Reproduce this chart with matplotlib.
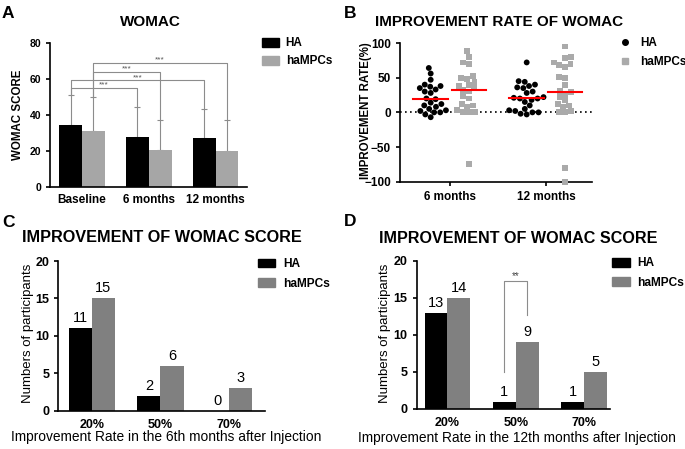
import matplotlib.pyplot as plt
import numpy as np
import pandas as pd
import seaborn as sns
from matplotlib.patches import Patch
from matplotlib.lines import Line2D

plt.rcParams['font.family'] = ['Liberation Sans', 'DejaVu Sans']

# ---------------------------------------------------
groups = ['HA', 'haMPCs']
times = ['Baseline', '6 months', '12 months']
womac_ha = [34.4, 27.9, 27.6]
womac_ha_sd = [16.7, 16.5, 16.1]
womac_mpc = [31.1, 20.7, 20.3]
womac_mpc_sd = [18.9, 16.7, 17.1]

follow_up = ['6 months', '12 months']
rate_ha_6 = [64, 56, 47, 40, 38, 37, 35, 33, 30, 28, 20, 19, 14, 12, 10, 8, 5, 3, 2, 0, 0, -3, -7]
rate_mpc_6 = [88, 80, 72, 70, 52, 50, 48, 44, 40, 38, 35, 32, 30, 23, 20, 12, 10, 8, 3, 0, 0, 0, -74]
rate_ha_12 = [72, 45, 44, 40, 38, 36, 35, 30, 28, 22, 21, 20, 20, 18, 15, 10, 5, 3, 2, 0, 0, -2, -3]
rate_mpc_12 = [95, 80, 78, 72, 70, 68, 66, 51, 50, 40, 31, 29, 27, 22, 18, 12, 10, 8, 2, 0, 0, -80, -100]

rate_bins = ['20%', '50%', '70%']
c_ha = [11, 2, 0]
c_mpc = [15, 6, 3]
d_ha = [13, 1, 1]
d_mpc = [15, 9, 5]
d_mpc_text = ['14', '9', '5']  # printed numbers (first bar is drawn at 15)

# ---------------------------------------------------
W, H = 685, 449
fx = lambda px: px / W
fy = lambda py: 1 - py / H

gray_light = '#a6a6a6'
gray_dark = '#808080'

fig = plt.figure(figsize=(6.85, 4.49), dpi=100)
axA = fig.add_axes([0.073, 0.5828, 0.2876, 0.3208])
axB = fig.add_axes([0.5839, 0.5953, 0.2803, 0.3089])
axC = fig.add_axes([0.0851, 0.0853, 0.3018, 0.3334])
axD = fig.add_axes([0.6083, 0.0891, 0.2822, 0.3303])

for ax in [axA, axB, axC, axD]:
    for s in ['top', 'right']:
        ax.spines[s].set_visible(False)
    for s in ['left', 'bottom']:
        ax.spines[s].set_linewidth(1.2)
    ax.tick_params(width=1.2, length=3)


def legend_at(ax, handles, x0, ytop, size, hl, hh, pad, spacing, weight='bold'):
    ax.legend(handles, groups, loc='upper left', bbox_to_anchor=(fx(x0), fy(ytop)),
              bbox_transform=fig.transFigure, frameon=False, borderpad=0, borderaxespad=0,
              handlelength=hl, handleheight=hh, handletextpad=pad, labelspacing=spacing,
              prop={'size': size, 'weight': weight})


# ---------------- A ----------------
w = 0.34
x = np.arange(len(times))
axA.bar(x - w/2, womac_ha, w, color='black', zorder=2)
axA.bar(x + w/2, womac_mpc, w, color=gray_light, zorder=2)
axA.errorbar(x - w/2, womac_ha, yerr=[np.zeros(3), womac_ha_sd], fmt='none',
             ecolor='#8c8c8c', elinewidth=0.8, capsize=2, capthick=0.8, zorder=1)
axA.errorbar(x + w/2, womac_mpc, yerr=[np.zeros(3), womac_mpc_sd], fmt='none',
             ecolor='#8c8c8c', elinewidth=0.8, capsize=2, capthick=0.8, zorder=1)

top_ha = np.array(womac_ha) + np.array(womac_ha_sd)
top_mpc = np.array(womac_mpc) + np.array(womac_mpc_sd)
brackets = [(-w/2, top_ha, 1, 55.2), (-w/2, top_ha, 2, 59.6),
            (w/2, top_mpc, 1, 64.3), (w/2, top_mpc, 2, 69.2)]
for off, tops, j, h in brackets:
    x1, x2 = 0 + off, j + off
    axA.plot([x1, x1, x2, x2], [tops[0], h, h, tops[j]], color='#8c8c8c', lw=0.8)
    axA.text((x1 + x2) / 2, h - 0.5, '***', ha='center', va='bottom', fontsize=6, color='#555555')

axA.set_xlim(-0.48, 2.47)
axA.set_ylim(0, 80)
axA.set_yticks([0, 20, 40, 60, 80])
axA.set_xticks(x)
axA.set_xticklabels(times, fontsize=8.5, fontweight='bold')
axA.tick_params(axis='x', length=0, pad=5)
for t in axA.get_yticklabels():
    t.set_fontsize(7.5)
    t.set_fontweight('bold')
legend_at(axA, [Patch(color='black'), Patch(color=gray_light)], 262, 37.5, 8.5, 1.41, 0.8, 0.6, 0.5)

# ---------------- B ----------------
df = pd.DataFrame({
    'time': ['6 months'] * (len(rate_ha_6) + len(rate_mpc_6)) + ['12 months'] * (len(rate_ha_12) + len(rate_mpc_12)),
    'group': ['HA'] * len(rate_ha_6) + ['haMPCs'] * len(rate_mpc_6) + ['HA'] * len(rate_ha_12) + ['haMPCs'] * len(rate_mpc_12),
    'rate': rate_ha_6 + rate_mpc_6 + rate_ha_12 + rate_mpc_12,
})
pal = {'HA': 'black', 'haMPCs': '#aaaaaa'}
sns.swarmplot(data=df[df.group == 'HA'], x='time', y='rate', hue='group', hue_order=groups,
              order=follow_up, dodge=True, palette=pal, marker='o', size=4.2, linewidth=0,
              legend=False, ax=axB, clip_on=False)
sns.swarmplot(data=df[df.group == 'haMPCs'], x='time', y='rate', hue='group', hue_order=groups,
              order=follow_up, dodge=True, palette=pal, marker='s', size=4.2, linewidth=0,
              legend=False, ax=axB, clip_on=False)
for i, t in enumerate(follow_up):
    for off, g in [(-0.2, 'HA'), (0.2, 'haMPCs')]:
        med = np.median(df[(df.time == t) & (df.group == g)].rate)
        axB.plot([i + off - 0.18, i + off + 0.18], [med, med], color='red', lw=1.5, zorder=5)
axB.axhline(0, color='black', ls=(0, (1, 2)), lw=1.2, zorder=0)
axB.set_xlim(-0.52, 1.48)
axB.set_ylim(-100, 100)
axB.set_yticks([-100, -50, 0, 50, 100])
axB.set_xticks([0, 1])
axB.set_xticklabels(follow_up)
axB.set_xlabel('')
axB.set_ylabel('')
for t in axB.get_xticklabels() + axB.get_yticklabels():
    t.set_fontsize(8.5)
    t.set_fontweight('bold')
legend_at(axB, [Line2D([], [], ls='', marker='o', color='black', ms=4),
                Line2D([], [], ls='', marker='s', color='#aaaaaa', ms=4)],
          619, 37.5, 8.5, 1.0, 0.7, 0.77, 0.55)


# ---------------- C / D ----------------
def count_panel(ax, ha, mpc, mpc_text, xlim):
    w = 0.335
    xx = np.arange(len(rate_bins))
    ax.bar(xx - w/2, ha, w, color='black')
    ax.bar(xx + w/2, mpc, w, color=gray_dark)
    for xi, v in zip(xx - w/2, ha):
        ax.text(xi, v + 0.4, str(v), ha='center', va='bottom', fontsize=10.5)
    for xi, v, s in zip(xx + w/2, mpc, mpc_text):
        ax.text(xi, v + 0.4, s, ha='center', va='bottom', fontsize=10.5)
    ax.set_xlim(*xlim)
    ax.set_ylim(0, 20)
    ax.set_yticks([0, 5, 10, 15, 20])
    ax.set_xticks(xx)
    ax.set_xticklabels(rate_bins)
    ax.tick_params(axis='x', length=0, pad=6)
    for t in ax.get_xticklabels() + ax.get_yticklabels():
        t.set_fontsize(9)
        t.set_fontweight('bold')


count_panel(axC, c_ha, c_mpc, [str(v) for v in c_mpc], (-0.486, 2.52))
count_panel(axD, d_ha, d_mpc, d_mpc_text, (-0.45, 2.38))

# significance bracket in D
wd = 0.335
axD.plot([1 - wd/2, 1 - wd/2, 1 + wd/2, 1 + wd/2], [5, 17.3, 17.3, 12.7], color='#8c8c8c', lw=0.8)
axD.text(1, 17.3, '**', ha='center', va='bottom', fontsize=7, color='#444444')

legend_at(axC, [Patch(color='black'), Patch(color=gray_dark)], 258, 258, 8.6, 1.43, 0.7, 0.67, 0.65)
legend_at(axD, [Patch(color='black'), Patch(color=gray_dark)], 612, 257.5, 8.6, 1.5, 0.7, 0.58, 0.6)

# ---------------- text ----------------
fig.text(fx(2), fy(18), 'A', fontsize=12.5, fontweight='bold', ha='left', va='baseline')
fig.text(fx(344), fy(18), 'B', fontsize=12.5, fontweight='bold', ha='left', va='baseline')
fig.text(fx(2), fy(226.5), 'C', fontsize=12.5, fontweight='bold', ha='left', va='baseline')
fig.text(fx(344), fy(226), 'D', fontsize=12.5, fontweight='bold', ha='left', va='baseline')

fig.text(fx(150), fy(25.7), 'WOMAC', fontsize=11, fontweight='bold', ha='center', va='baseline')
fig.text(fx(375), fy(26), 'IMPROVEMENT RATE OF WOMAC', fontsize=11, fontweight='bold', ha='left', va='baseline')
fig.text(fx(21.7), fy(242.3), 'IMPROVEMENT OF WOMAC SCORE', fontsize=11.7, fontweight='bold', ha='left', va='baseline')
fig.text(fx(379.3), fy(242.7), 'IMPROVEMENT OF WOMAC SCORE', fontsize=11.6, fontweight='bold', ha='left', va='baseline')

fig.text(fx(18), fy(115), 'WOMAC SCORE', fontsize=8.3, fontweight='bold', rotation=90, ha='center', va='center')
fig.text(fx(366), fy(111), 'IMPROVEMENT RATE(%)', fontsize=8.3, fontweight='bold', rotation=90, ha='center', va='center')
fig.text(fx(28), fy(333), 'Numbers of participants', fontsize=9.5, rotation=90, ha='center', va='center')
fig.text(fx(385), fy(333), 'Numbers of participants', fontsize=9.5, rotation=90, ha='center', va='center')

fig.text(fx(166.5), fy(441), 'Improvement Rate in the 6th months after Injection', fontsize=9.9, ha='center', va='baseline')
fig.text(fx(516.7), fy(441.7), 'Improvement Rate in the 12th months after Injection', fontsize=9.9, ha='center', va='baseline')

fig.savefig('out.png', dpi=100)
